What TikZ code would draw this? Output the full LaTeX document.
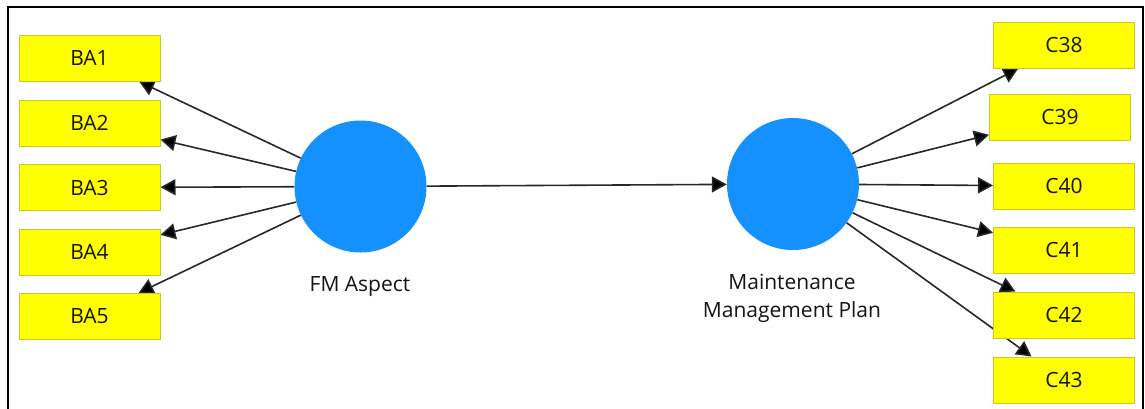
\documentclass[tikz,border=0pt]{standalone}
\usepackage{fontspec}
\setmainfont{Open Sans}
\usetikzlibrary{arrows.meta,backgrounds}
\definecolor{lvblue}{RGB}{20,145,255}
\definecolor{boxyel}{RGB}{255,255,0}
\definecolor{boxedge}{RGB}{200,200,40}
\definecolor{edgegray}{RGB}{40,40,40}
\definecolor{txt}{RGB}{20,20,20}
\begin{document}
\begin{tikzpicture}[x=1pt,y=-1pt,
  ind/.style={draw=boxedge,line width=1pt,fill=boxyel,minimum width=141pt,minimum height=46pt,inner sep=0pt,font=\fontsize{21}{24}\selectfont,text=txt},
  lat/.style={circle,fill=lvblue,minimum size=132pt,inner sep=0pt},
  lbl/.style={font=\fontsize{21}{28}\selectfont,text=txt,align=center,inner sep=0pt},
  conn/.style={draw=edgegray,line width=1.6pt,-{Triangle[length=15pt,width=16pt,fill=black]}}]
\useasboundingbox (0,0) rectangle (1145,408);
\begin{scope}
\clip (0,0) rectangle (1145,408);
\draw[line width=2pt] (8,7) rectangle (1143,430);
\end{scope}
% latent variables
\node[lat] (fm) at (360.5,186.5) {};
\node[lat] (mmp) at (793,184) {};
\node[lbl] (fml) at (360,286) {FM Aspect};
\node[lbl] (mmpl) at (792,298) {Maintenance\\Management Plan};
% indicators
\node[ind] (ba1) at (89.5,58) {BA1};
\node[ind] (ba2) at (89.5,123) {BA2};
\node[ind] (ba3) at (89.5,187.5) {BA3};
\node[ind] (ba4) at (89.5,252) {BA4};
\node[ind] (ba5) at (89.5,316.5) {BA5};
\node[ind] (c38) at (1064,45) {C38};
\node[ind] (c39) at (1060,117) {C39};
\node[ind] (c40) at (1064,186) {C40};
\node[ind] (c41) at (1064,250) {C41};
\node[ind] (c42) at (1064,315) {C42};
\node[ind] (c43) at (1064,380) {C43};
\begin{scope}[on background layer]
\foreach \b in {ba1,ba2,ba3,ba4,ba5}{\draw[conn] (fm) -- (\b);}
\foreach \c in {c38,c39,c40,c41,c42,c43}{\draw[conn] (mmp) -- (\c);}
\draw[conn] (fm) -- (mmp);
\end{scope}
\end{tikzpicture}
\end{document}
